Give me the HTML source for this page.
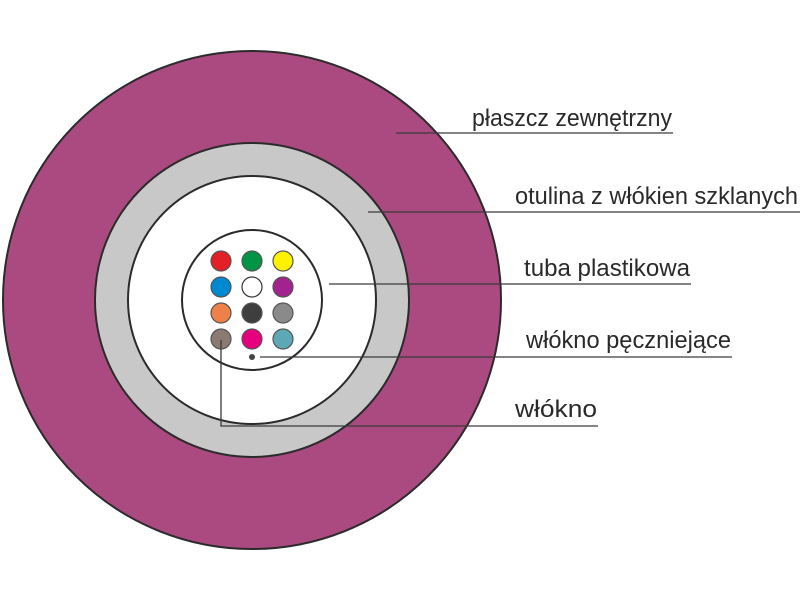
<!DOCTYPE html>
<html><head><meta charset="utf-8"><style>
html,body{margin:0;padding:0;background:#fff;width:800px;height:600px;overflow:hidden}
text{font-family:"Liberation Sans Narrow","Liberation Sans",sans-serif;font-size:24px;fill:#2a2a2a}
</style></head><body>
<svg width="800" height="600" viewBox="0 0 800 600">
<circle cx="252" cy="300" r="249" fill="#ab4a80" stroke="#2b2b2b" stroke-width="2"/>
<circle cx="252" cy="300" r="157" fill="#c8c8c8" stroke="#2b2b2b" stroke-width="2"/>
<circle cx="252" cy="300" r="124" fill="#fff" stroke="#2b2b2b" stroke-width="2"/>
<circle cx="252" cy="300" r="70" fill="#fff" stroke="#2b2b2b" stroke-width="2"/>
<g stroke="#555" stroke-width="1.2">
<circle cx="221" cy="261" r="10" fill="#e32027"/>
<circle cx="252" cy="261" r="10" fill="#009444"/>
<circle cx="283" cy="261" r="10" fill="#fff200"/>
<circle cx="221" cy="287" r="10" fill="#0088d1"/>
<circle cx="252" cy="287" r="10" fill="#fff" stroke="#333"/>
<circle cx="283" cy="287" r="10" fill="#a3238e"/>
<circle cx="221" cy="313" r="10" fill="#f0804a"/>
<circle cx="252" cy="313" r="10" fill="#3e3e3e"/>
<circle cx="283" cy="313" r="10" fill="#8a8a8a"/>
<circle cx="221" cy="339" r="10" fill="#8a7a72"/>
<circle cx="252" cy="339" r="10" fill="#e6007e"/>
<circle cx="283" cy="339" r="10" fill="#5ca8b5"/>
</g>
<circle cx="252" cy="357" r="3" fill="#444"/>
<g stroke="#3a3a3a" stroke-width="1.3" fill="none">
<line x1="396" y1="133" x2="673" y2="133"/>
<line x1="368" y1="212" x2="800" y2="212"/>
<line x1="329" y1="284" x2="691" y2="284"/>
<line x1="260" y1="357" x2="732" y2="357"/>
<polyline points="221,340 221,426 598,426"/>
</g>
<text x="472" y="126" textLength="200" lengthAdjust="spacingAndGlyphs">płaszcz zewnętrzny</text>
<text x="515" y="204" textLength="283" lengthAdjust="spacingAndGlyphs">otulina z włókien szklanych</text>
<text x="524" y="276" textLength="166" lengthAdjust="spacingAndGlyphs">tuba plastikowa</text>
<text x="526" y="348" textLength="205" lengthAdjust="spacingAndGlyphs">włókno pęczniejące</text>
<text x="515" y="417" textLength="82" lengthAdjust="spacingAndGlyphs">włókno</text>
</svg>
</body></html>
